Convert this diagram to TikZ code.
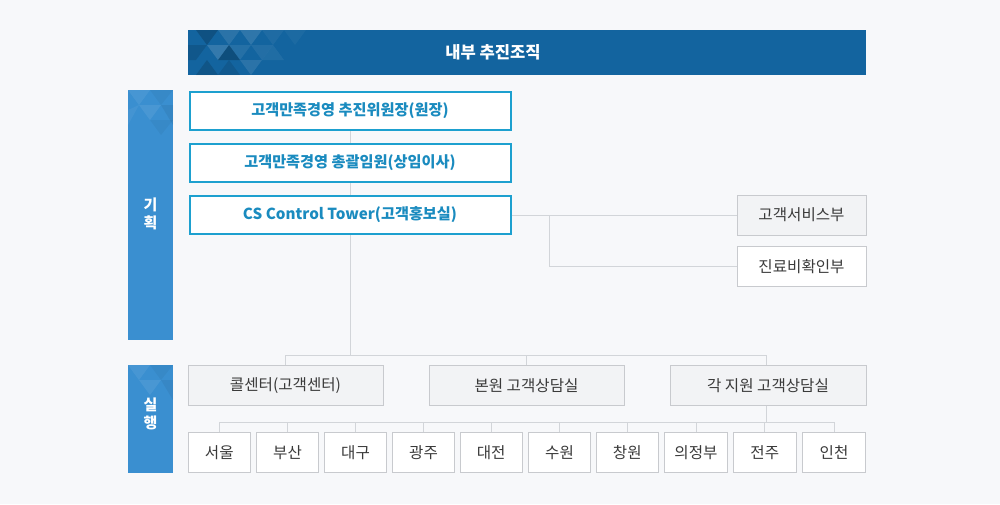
\documentclass[tikz,border=0pt]{standalone}
\usepackage{fontspec}
\setmainfont{Noto Sans CJK KR}
\definecolor{bgc}{HTML}{F7F8FA}
\definecolor{hdr}{HTML}{13649F}
\definecolor{sidec}{HTML}{3A8FD0}
\definecolor{cyb}{HTML}{1DA0CF}
\definecolor{cyt}{HTML}{1A8BBF}
\definecolor{gfill}{HTML}{F2F3F5}
\definecolor{gline}{HTML}{C8CACE}
\definecolor{conn}{HTML}{D2D5D9}
\definecolor{gtext}{HTML}{3A3A3A}
\begin{document}
\begin{tikzpicture}[x=1pt,y=-1pt,
  topbox/.style={draw=cyb, line width=2pt, fill=white, minimum width=321pt, minimum height=38pt, inner sep=0pt, text=cyt, font=\fontsize{15.2}{17}\selectfont\bfseries},
  graybox/.style={draw=gline, line width=1pt, fill=gfill, minimum height=40pt, inner sep=0pt, text=gtext, font=\fontsize{15.6}{17}\selectfont},
  whitebox/.style={graybox, fill=white},
  cityb/.style={whitebox, minimum width=62pt},
  sidelbl/.style={text=white, font=\fontsize{15}{18}\selectfont\bfseries, align=center, inner sep=0pt},
  link/.style={draw=conn, line width=1pt}
]
\useasboundingbox (0,0) rectangle (1000,504);
\fill[bgc] (0,0) rectangle (1000,504);

% header
\fill[hdr] (188,30) rectangle (866,75);
\begin{scope}
\clip (188,30) rectangle (866,75);
\fill[black, opacity=0.18] (196,30) -- (218,30) -- (207,45) -- cycle;
\fill[white, opacity=0.10] (218,30) -- (240,30) -- (229,45) -- cycle;
\fill[white, opacity=0.14] (207,45) -- (229,45) -- (218,60) -- cycle;
\fill[black, opacity=0.12] (188,45) -- (207,45) -- (196,60) -- (188,60) -- cycle;
\fill[black, opacity=0.22] (218,60) -- (240,60) -- (229,45) -- cycle;
\fill[white, opacity=0.12] (240,30) -- (262,30) -- (251,45) -- cycle;
\fill[white, opacity=0.08] (229,45) -- (251,45) -- (240,60) -- cycle;
\fill[black, opacity=0.15] (196,75) -- (218,75) -- (207,60) -- cycle;
\fill[white, opacity=0.10] (240,60) -- (262,60) -- (251,75) -- cycle;
\fill[white, opacity=0.07] (251,45) -- (273,45) -- (262,60) -- cycle;
\fill[white, opacity=0.06] (262,60) -- (284,60) -- (273,45) -- cycle;
\fill[white, opacity=0.05] (262,30) -- (284,30) -- (273,45) -- cycle;
\fill[white, opacity=0.04] (284,30) -- (306,30) -- (295,45) -- cycle;
\fill[black, opacity=0.10] (218,75) -- (240,75) -- (229,60) -- cycle;
\end{scope}
\node[text=white, font=\fontsize{16.6}{18}\selectfont\bfseries] (hdrlbl) at (493,52) {내부 추진조직};

% side bars
\fill[sidec] (128,90) rectangle (173,340);
\fill[sidec] (128,365) rectangle (173,473);
\begin{scope}
\clip (128,90) rectangle (173,340);
\fill[white, opacity=0.07] (128,90) -- (150,90) -- (139,105) -- cycle;
\fill[black, opacity=0.04] (150,90) -- (173,90) -- (161,105) -- cycle;
\fill[white, opacity=0.08] (139,105) -- (161,105) -- (150,120) -- cycle;
\fill[black, opacity=0.06] (161,105) -- (173,105) -- (173,125) -- cycle;
\fill[white, opacity=0.05] (128,110) -- (139,105) -- (128,125) -- cycle;
\fill[black, opacity=0.04] (150,120) -- (173,120) -- (161,135) -- cycle;
\end{scope}
\begin{scope}
\clip (128,365) rectangle (173,473);
\fill[white, opacity=0.07] (128,365) -- (150,365) -- (139,380) -- cycle;
\fill[black, opacity=0.04] (150,365) -- (173,365) -- (161,380) -- cycle;
\fill[white, opacity=0.08] (139,380) -- (161,380) -- (150,395) -- cycle;
\fill[black, opacity=0.05] (161,380) -- (173,380) -- (173,400) -- cycle;
\end{scope}
\node[sidelbl] (plan) at (150.5,214) {기\\획};
\node[sidelbl] (exec) at (150.5,414) {실\\행};

% top boxes
\node[topbox] (b1) at (350,111) {고객만족경영 추진위원장(원장)};
\node[topbox] (b2) at (350,163) {고객만족경영 총괄임원(상임이사)};
\node[topbox] (b3) at (350,215) {CS Control Tower(고객홍보실)};

% right boxes
\node[graybox, minimum width=129pt] (svc) at (801.5,215) {고객서비스부};
\node[whitebox, minimum width=129pt] (fee) at (801.5,266.5) {진료비확인부};

% row 2
\node[graybox, minimum width=195pt] (call) at (285.5,385.5) {콜센터(고객센터)};
\node[graybox, minimum width=195pt] (main) at (526.5,385.5) {본원 고객상담실};
\node[graybox, minimum width=196pt] (branch) at (768,385.5) {각 지원 고객상담실};

% row 3
\node[cityb] (c1) at (219.3,452.5) {서울};
\node[cityb] (c2) at (287.5,452.5) {부산};
\node[cityb] (c3) at (355.5,452.5) {대구};
\node[cityb] (c4) at (423.5,452.5) {광주};
\node[cityb] (c5) at (491.2,452.5) {대전};
\node[cityb] (c6) at (559.5,452.5) {수원};
\node[cityb] (c7) at (627.3,452.5) {창원};
\node[cityb, minimum width=63pt] (c8) at (696,452.5) {의정부};
\node[cityb, minimum width=63pt] (c9) at (764.8,452.5) {전주};
\node[cityb, minimum width=63pt] (c10) at (834,452.5) {인천};

% connectors
\coordinate (j0) at (350,355);
\coordinate (jr) at (549,215);
\coordinate (jb) at (766,422);
\draw[link] (b1) -- (b2);
\draw[link] (b2) -- (b3);
\draw[link] (b3.south) -- (j0);
\draw[link] (call.north) |- (j0);
\draw[link] (main.north) |- (j0);
\draw[link] (branch.north -| jb) |- (j0);
\draw[link] (b3.east) -- (svc.west);
\draw[link] (jr) |- (fee.west);
\draw[link] (branch.south -| jb) -- (jb);
\foreach \c in {c1,c2,c3,c4,c5,c6,c7,c8,c9,c10}{
  \draw[link] (\c.north) |- (jb);
}
\end{tikzpicture}
\end{document}
